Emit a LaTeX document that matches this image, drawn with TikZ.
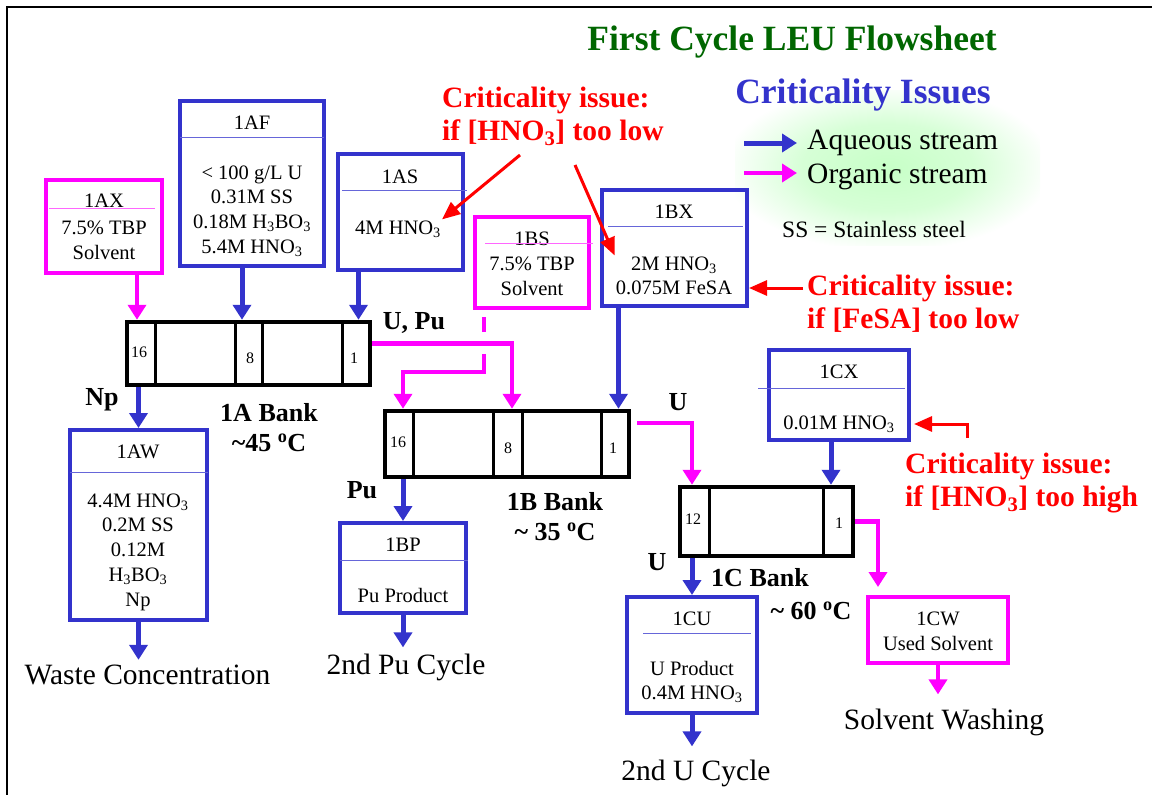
\documentclass[tikz,border=0pt]{standalone}
\usepackage{fontspec}
\setmainfont{Liberation Serif}
\usetikzlibrary{arrows.meta}

\definecolor{aqblue}{RGB}{51,51,204}
\definecolor{orgmag}{RGB}{255,0,255}
\definecolor{titlegreen}{RGB}{0,102,0}

\newcommand\boxfont{\fontsize{20.5}{24.7}\selectfont}
\newcommand\cellfont{\fontsize{16}{18}\selectfont}
\newcommand\lblfont{\fontsize{26}{30}\selectfont\bfseries}
\newcommand\critfont{\fontsize{29.5}{33}\selectfont\bfseries}
\newcommand\outfont{\fontsize{29.5}{33}\selectfont}
\newcommand\titlefont{\fontsize{35.5}{40}\selectfont\bfseries}

\pgfdeclareradialshading{legendglow}{\pgfpoint{0bp}{0bp}}{color(0bp)=(green!22); color(14bp)=(green!16); color(27bp)=(white); color(50bp)=(white)}

\begin{document}
\begin{tikzpicture}[x=1pt,y=-1pt,
    aqbox/.style={draw=aqblue,line width=4pt,inner sep=0pt},
    orgbox/.style={draw=orgmag,line width=4pt,inner sep=0pt},
    bankbox/.style={draw=black,line width=4.5pt,inner sep=0pt},
    cellline/.style={line width=3pt},
    hdr/.style={font=\boxfont,inner sep=1pt},
    txt/.style={font=\boxfont,align=center,inner sep=1pt},
    aqdiv/.style={draw=aqblue!75,line width=1pt},
    orgdiv/.style={draw=orgmag!60,line width=1pt},
    aqflow/.style={draw=aqblue,line width=5pt,-{Triangle[width=18pt,length=15pt]}},
    orgflow/.style={draw=orgmag,line width=4.5pt,-{Triangle[width=18pt,length=15pt]}},
    critarrow/.style={draw=red,line width=3pt,-{Triangle[width=15pt,length=18pt]}},
    lbl/.style={font=\lblfont,inner sep=1pt},
    celltxt/.style={font=\cellfont,inner sep=0pt},
    crittxt/.style={font=\critfont,text=red,align=left,anchor=west,inner sep=1pt},
    outtxt/.style={font=\outfont,inner sep=2pt}]
\useasboundingbox (0,0) rectangle (1152,795);
\shade[shading=legendglow] (735,90) rectangle (1040,245);
\draw[line width=1.2pt] (7,795) -- (7,7) -- (1152,7);

% titles and legend
\node[font=\titlefont,text=titlegreen] (title) at (792,42) {First Cycle LEU Flowsheet};
\node[font=\titlefont,text=aqblue] (issues) at (863,95) {Criticality Issues};
\node[font=\outfont,anchor=west,inner sep=1pt] (aqtxt) at (806,143) {Aqueous stream};
\node[font=\outfont,anchor=west,inner sep=1pt] (orgtxt) at (806,177) {Organic stream};
\node[font=\fontsize{23.5}{26}\selectfont,anchor=west,inner sep=1pt] (ss) at (781,229) {SS = Stainless steel};
\coordinate (legaq) at (744,143);
\coordinate (legorg) at (744,173);
\draw[aqflow,shorten >=9pt] (legaq) -- (legaq -| aqtxt.west);
\draw[orgflow,shorten >=9pt] (legorg) -- (legorg -| orgtxt.west);

% feed boxes
\node[orgbox,minimum width=116pt,minimum height=93pt] (ax) at (104,226.5) {};
\node[hdr] (ax-h) at (104,201) {1AX};
\draw[orgdiv] (49,208) -- (155,208);
\node[txt] (ax-t) at (104,240) {7.5\% TBP\\Solvent};

\node[aqbox,minimum width=144pt,minimum height=165pt] (af) at (252,183.5) {};
\node[hdr] (af-h) at (252,123) {1AF};
\draw[aqdiv] (180,137) -- (324,137);
\node[txt] (af-t) at (252,211) {< 100 g/L U\\0.31M SS\\0.18M H\textsubscript{3}BO\textsubscript{3}\\5.4M HNO\textsubscript{3}};

\node[aqbox,minimum width=125pt,minimum height=116pt] (as) at (400.5,212) {};
\node[hdr] (as-h) at (400,177) {1AS};
\draw[aqdiv] (342,190) -- (467,190);
\node[txt] (as-t) at (398,229) {4M HNO\textsubscript{3}};

\node[orgbox,minimum width=114pt,minimum height=91pt] (bs) at (532,262.5) {};
\node[hdr] (bs-h) at (532,239) {1BS};
\draw[orgdiv] (485,243) -- (593,243);
\node[txt] (bs-t) at (532,276) {7.5\% TBP\\Solvent};

\node[aqbox,minimum width=145pt,minimum height=116pt] (bx) at (674.5,248) {};
\node[hdr] (bx-h) at (674,212) {1BX};
\draw[aqdiv] (608,226) -- (743,226);
\node[txt] (bx-t) at (674,276) {2M HNO\textsubscript{3}\\0.075M FeSA};

\node[aqbox,minimum width=140pt,minimum height=90pt] (cx) at (839,395) {};
\node[hdr] (cx-h) at (839,372) {1CX};
\draw[aqdiv] (758,388) -- (905,388);
\node[txt] (cx-t) at (839,424) {0.01M HNO\textsubscript{3}};

% banks
\node[bankbox,minimum width=243pt,minimum height=63pt] (abank) at (248.5,353.5) {};
\foreach \x in {155,235,262,342} \draw[cellline] (\x,322) -- (\x,385);
\node[celltxt] (a16) at (139,352) {16};
\node[celltxt] (a8) at (250,358) {8};
\node[celltxt] (a1) at (354,358) {1};

\node[bankbox,minimum width=244pt,minimum height=66pt] (bbank) at (507,444) {};
\foreach \x in {413,493,522,601} \draw[cellline] (\x,411) -- (\x,477);
\node[celltxt] (b16) at (398,442) {16};
\node[celltxt] (b8) at (508,448) {8};
\node[celltxt] (b1) at (613,448) {1};

\node[bankbox,minimum width=173pt,minimum height=69pt] (cbank) at (766.5,521.5) {};
\foreach \x in {709,823} \draw[cellline] (\x,487) -- (\x,556);
\node[celltxt] (c12) at (693,519) {12};
\node[celltxt] (c1) at (839,523) {1};

\node[lbl,align=center] (abank-l) at (269,428) {1A Bank\\\textasciitilde45 \textsuperscript{o}C};
\node[lbl,align=center] (bbank-l) at (555,517) {1B Bank\\\textasciitilde{} 35 \textsuperscript{o}C};
\node[lbl] (cbank-l) at (760,578) {1C Bank};
\node[lbl] (cbank-t) at (811,611) {\textasciitilde{} 60 \textsuperscript{o}C};

% product boxes
\node[aqbox,minimum width=137pt,minimum height=190pt] (aw) at (138.5,525) {};
\node[hdr] (aw-h) at (138,452) {1AW};
\draw[aqdiv] (70,472) -- (208,472);
\node[txt] (aw-t) at (138,552) {4.4M HNO\textsubscript{3}\\0.2M SS\\0.12M\\H\textsubscript{3}BO\textsubscript{3}\\Np};

\node[aqbox,minimum width=126pt,minimum height=90pt] (bp) at (403,568) {};
\node[hdr] (bp-h) at (403,545) {1BP};
\draw[aqdiv] (340,560) -- (468,560);
\node[txt] (bp-t) at (403,595) {Pu Product};

\node[aqbox,minimum width=130pt,minimum height=116pt] (cu) at (692,655) {};
\node[hdr] (cu-h) at (692,619) {1CU};
\draw[aqdiv] (643,633) -- (751,633);
\node[txt] (cu-t) at (692,682) {U Product\\0.4M HNO\textsubscript{3}};

\node[orgbox,minimum width=140pt,minimum height=66pt] (cw) at (938,630) {};
\node[txt] (cw-t) at (938,631) {1CW\\Used Solvent};

% stream labels
\node[lbl] (np) at (102,400) {Np};
\node[lbl] (upu) at (414,323) {U, Pu};
\node[lbl] (pu) at (362,490) {Pu};
\node[lbl] (ub) at (678,402) {U};
\node[lbl] (uc) at (657,562) {U};

% outputs
\node[outtxt] (waste) at (147.5,675) {Waste Concentration};
\node[outtxt] (pucyc) at (406,667) {2nd Pu Cycle};
\node[outtxt] (ucyc) at (696,773) {2nd U Cycle};
\node[outtxt] (wash) at (944,722) {Solvent Washing};

% streams
\draw[orgflow] ([xshift=33pt]ax.south) -- ([xshift=33pt]ax.south |- abank.north);
\draw[aqflow] ([xshift=-10pt]af.south) -- ([xshift=-10pt]af.south |- abank.north);
\draw[aqflow] ([xshift=-42pt]as.south) -- ([xshift=-42pt]as.south |- abank.north);
\draw[aqflow] (abank.south -| aw) -- (aw.north);
\draw[orgflow] ([yshift=10pt]abank.east) -| ([xshift=4pt]bbank.north -| b8);
\draw[draw=orgmag,line width=4.5pt,dash pattern=on 15pt off 22pt] ([shift={(-48pt,-7pt)}]bs.south) -- ++(0,37);
\draw[orgflow] ([shift={(-48pt,-44pt)}]bs.south) -- ++(0,18) -| (bbank.north -| bp);
\draw[aqflow] ([xshift=-56pt]bx.south) -- ([xshift=-56pt]bx.south |- bbank.north);
\draw[aqflow] (bbank.south -| bp) -- (bp.north);
\draw[orgflow] ([shift={(6pt,21pt)}]bbank.east) -| (cbank.north -| cu);
\draw[aqflow] ([xshift=-8pt]cx.south) -- ([xshift=-8pt]cx.south |- cbank.north);
\draw[aqflow] (cbank.south -| cu) -- (cu.north);
\draw[orgflow,shorten >=8pt] (cbank.east) -| ([xshift=-60pt]cw.north);
\draw[aqflow,shorten >=3pt] (aw.south) -- (aw.south |- waste.north);
\draw[aqflow,shorten >=4pt] (bp.south) -- (bp.south |- pucyc.north);
\draw[aqflow,shorten >=11pt] (cu.south) -- (cu.south |- ucyc.north);
\draw[orgflow,shorten >=12pt] (cw.south) -- (cw.south |- wash.north);

% criticality notes
\node[crittxt] (crit1) at (441,116) {Criticality issue:\\if [HNO\textsubscript{3}] too low};
\node[crittxt] (crit2) at (806,304) {Criticality issue:\\if [FeSA] too low};
\node[crittxt] (crit3) at (904,483) {Criticality issue:\\if [HNO\textsubscript{3}] too high};
\coordinate (c1l) at (520,155);
\coordinate (c1r) at (575,165);
\coordinate (c2) at (803,288);
\coordinate (c3) at (967,438);
\draw[critarrow] (c1l) -- (as-t.north east);
\draw[critarrow] (c1r) -- (bx-t.north west);
\draw[critarrow] (c2) -- (c2 -| bx.east);
\draw[critarrow,shorten >=3pt] (c3) |- (cx.east |- cx-t);
\end{tikzpicture}
\end{document}
